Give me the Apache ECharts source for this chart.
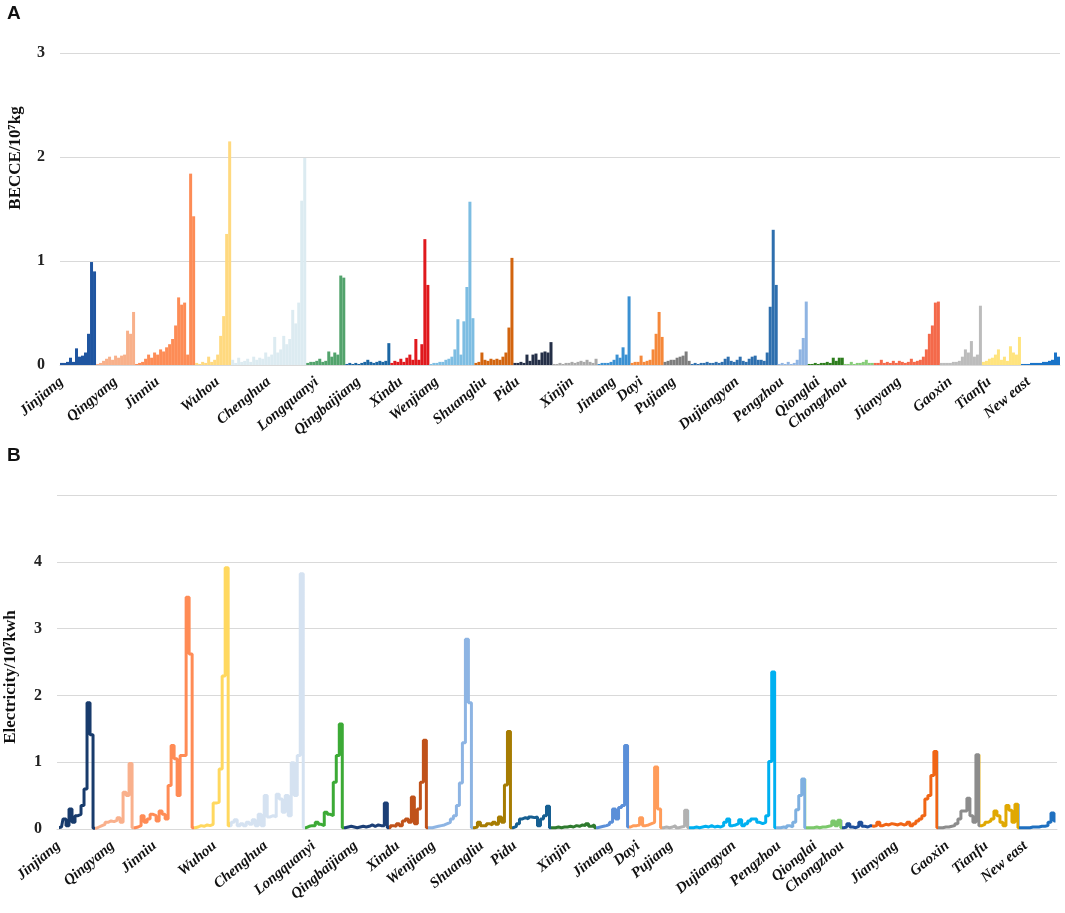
<!DOCTYPE html>
<html><head><meta charset="utf-8">
<script src="https://cdn.jsdelivr.net/npm/echarts@6/dist/echarts.min.js"></script>
<style>html,body{margin:0;padding:0;background:#fff}#c{width:1065px;height:913px}</style>
</head><body><div id="c"></div>
<script>
// ---------------- DATA ----------------
const districts = ['Jinjiang','Qingyang','Jinniu','Wuhou','Chenghua','Longquanyi','Qingbaijiang','Xindu','Wenjiang','Shuangliu','Pidu','Xinjin','Jintang','Dayi','Pujiang','Dujiangyan','Pengzhou','Qionglai','Chongzhou','Jianyang','Gaoxin','Tianfu','New east'];

// BECCE (10^7 kg), one small array per district
const becce = [
  [0.02,0.02,0.03,0.07,0.03,0.16,0.08,0.09,0.12,0.3,0.99,0.9],
  [0.01,0.02,0.04,0.06,0.08,0.05,0.09,0.07,0.09,0.1,0.33,0.3,0.51],
  [0.01,0.02,0.03,0.06,0.1,0.07,0.12,0.1,0.15,0.13,0.17,0.2,0.25,0.38,0.65,0.58,0.6,0.1,1.84,1.43],
  [0.02,0.01,0.03,0.02,0.08,0.03,0.05,0.1,0.28,0.47,1.26,2.15],
  [0.05,0.02,0.07,0.03,0.04,0.06,0.03,0.08,0.05,0.07,0.06,0.12,0.08,0.1,0.27,0.12,0.15,0.28,0.2,0.25,0.53,0.4,0.6,1.58,1.99],
  [0.02,0.03,0.03,0.04,0.06,0.03,0.04,0.13,0.08,0.12,0.1,0.86,0.84],
  [0.01,0.02,0.01,0.02,0.01,0.02,0.03,0.05,0.03,0.02,0.03,0.04,0.03,0.04,0.21],
  [0.02,0.04,0.03,0.06,0.03,0.07,0.1,0.05,0.25,0.05,0.2,1.21,0.77],
  [0.01,0.02,0.02,0.03,0.03,0.05,0.06,0.08,0.15,0.44,0.1,0.42,0.75,1.57,0.45],
  [0.02,0.03,0.12,0.05,0.04,0.06,0.05,0.06,0.05,0.08,0.12,0.36,1.03],
  [0.02,0.02,0.03,0.02,0.1,0.04,0.1,0.11,0.05,0.12,0.13,0.12,0.22],
  [0.01,0.01,0.02,0.01,0.02,0.02,0.03,0.02,0.03,0.04,0.03,0.05,0.03,0.02,0.06],
  [0.01,0.02,0.02,0.02,0.03,0.05,0.1,0.07,0.17,0.1,0.66],
  [0.02,0.03,0.03,0.09,0.03,0.04,0.05,0.15,0.3,0.51,0.27],
  [0.03,0.04,0.05,0.05,0.07,0.08,0.09,0.13,0.04],
  [0.01,0.02,0.01,0.02,0.02,0.03,0.02,0.02,0.03,0.02,0.03,0.06,0.08,0.04,0.03,0.05,0.08,0.04,0.03,0.06,0.08,0.09,0.05,0.05,0.04,0.12,0.56,1.3,0.77],
  [0.01,0.02,0.01,0.03,0.01,0.02,0.05,0.15,0.26,0.61],
  [0.01,0.01,0.02,0.01,0.02,0.02,0.03,0.02,0.07,0.04,0.07,0.07],
  [0.01,0.01,0.03,0.01,0.02,0.02,0.03,0.05,0.02,0.02],
  [0.02,0.02,0.05,0.02,0.03,0.02,0.04,0.02,0.04,0.03,0.02,0.03,0.06,0.03,0.04,0.05,0.08,0.15,0.3,0.38,0.6,0.61],
  [0.02,0.02,0.02,0.02,0.03,0.03,0.04,0.08,0.15,0.12,0.23,0.08,0.1,0.57],
  [0.03,0.04,0.06,0.07,0.1,0.15,0.05,0.08,0.04,0.18,0.12,0.1,0.27],
  [0.01,0.01,0.01,0.02,0.02,0.02,0.02,0.03,0.03,0.04,0.05,0.12,0.08]
];

// Electricity (10^7 kwh), one small array per district
const electricity = [
  [0.02,0.03,0.15,0.05,0.3,0.1,0.2,0.22,0.35,0.6,1.89,1.41],
  [0.01,0.03,0.05,0.07,0.1,0.12,0.11,0.13,0.17,0.1,0.55,0.5,0.98],
  [0.02,0.03,0.05,0.2,0.1,0.15,0.22,0.2,0.12,0.27,0.22,0.15,0.65,1.25,1.05,0.5,1.1,1.1,3.47,2.62],
  [0.02,0.03,0.05,0.04,0.06,0.05,0.07,0.39,0.4,0.9,2.29,3.91],
  [0.05,0.1,0.14,0.05,0.08,0.05,0.1,0.07,0.14,0.05,0.22,0.05,0.5,0.18,0.2,0.18,0.52,0.45,0.25,0.5,0.2,0.99,0.5,1.1,3.82],
  [0.02,0.04,0.05,0.05,0.1,0.07,0.05,0.25,0.22,0.2,0.7,1.1,1.57],
  [0.02,0.03,0.04,0.03,0.02,0.03,0.04,0.03,0.04,0.06,0.04,0.06,0.05,0.05,0.39],
  [0.02,0.05,0.04,0.08,0.05,0.12,0.15,0.1,0.48,0.08,0.3,0.7,1.33],
  [0.02,0.02,0.03,0.04,0.05,0.06,0.08,0.1,0.15,0.2,0.35,0.69,1.29,2.84,1.89],
  [0.02,0.03,0.1,0.05,0.05,0.08,0.06,0.1,0.07,0.18,0.1,0.66,1.46],
  [0.02,0.04,0.08,0.15,0.17,0.15,0.18,0.17,0.18,0.05,0.15,0.2,0.34],
  [0.02,0.02,0.03,0.02,0.03,0.03,0.04,0.03,0.05,0.04,0.06,0.05,0.08,0.04,0.06],
  [0.02,0.03,0.04,0.05,0.07,0.1,0.3,0.15,0.32,0.35,1.25],
  [0.03,0.05,0.05,0.06,0.17,0.05,0.06,0.08,0.1,0.93,0.3],
  [0.02,0.03,0.02,0.03,0.05,0.02,0.03,0.04,0.28],
  [0.02,0.02,0.03,0.02,0.03,0.04,0.03,0.05,0.03,0.04,0.03,0.05,0.1,0.15,0.05,0.06,0.08,0.14,0.05,0.08,0.12,0.15,0.15,0.1,0.08,0.1,0.2,1.01,2.35],
  [0.02,0.02,0.03,0.02,0.05,0.03,0.1,0.29,0.5,0.75],
  [0.02,0.02,0.02,0.03,0.02,0.03,0.03,0.04,0.05,0.12,0.05,0.13],
  [0.02,0.03,0.08,0.03,0.02,0.04,0.1,0.04,0.03,0.05],
  [0.04,0.05,0.1,0.05,0.07,0.06,0.08,0.07,0.06,0.08,0.06,0.07,0.1,0.05,0.08,0.12,0.15,0.2,0.45,0.5,0.8,1.16],
  [0.02,0.02,0.03,0.03,0.04,0.05,0.08,0.15,0.27,0.27,0.46,0.2,0.1,1.11],
  [0.05,0.07,0.1,0.12,0.15,0.27,0.2,0.1,0.05,0.35,0.28,0.1,0.37],
  [0.02,0.02,0.02,0.02,0.03,0.03,0.03,0.04,0.04,0.05,0.1,0.24,0.12]
];

const yTicksA = [0, 1, 2, 3];
const yTicksB = [0, 1, 2, 3, 4];
const yNameA = 'BECCE/10⁷kg';
const yNameB = 'Electricity/10⁷kwh';

// ---------------- STYLE ----------------
const colorsA = ['#1f55a0','#f8b08a','#fd8c56','#ffd97f','#dcebf1','#52a36c','#1b66a3','#e0191d','#7dbde2','#d2640f','#242f47','#a8a8a8','#3a90d2','#f5883a','#7d7d7d','#2e6fae','#8fb4e2','#2d7d1d','#86cc78','#f4694a','#bcbcbc','#ffe47e','#1a74c8'];
const colorsB = ['#183b6c','#f9b08c','#ff8b55','#ffd85f','#d5e2f1','#3caa36','#1c3f76','#c0521a','#8db4e3','#a67c02','#165f92','#2e7a2e','#5b8fd8','#ff9c5a','#b1b1b1','#00b0f0','#7eb0e0','#7bc86b','#1f4f9a','#f06515','#8c8c8c','#e0a802','#1f70c0'];
const labelOffset = [0,6,7,7,12,3,4,3,2,3,1,6,5,3,3,15,1,3,0,8,3,2,2];

// ---------------- BUILD ----------------
const starts = [];
let total = 0;
becce.forEach(a => { starts.push(total); total += a.length; });
const labelAt = {};
districts.forEach((d, i) => { labelAt[starts[i] + labelOffset[i]] = d; });
const cats = [];
for (let i = 0; i < total; i++) cats.push(labelAt[i] || '');

const barData = [];
becce.forEach((arr, k) => arr.forEach(v => barData.push({ value: v, itemStyle: { color: colorsA[k] } })));
const lineData = [];
electricity.forEach(arr => arr.forEach(v => lineData.push(v)));
const pieces = districts.map((d, k) => ({ gt: starts[k] - 0.5, lte: starts[k] + electricity[k].length - 0.5, color: colorsB[k] }));

const serif = 'Liberation Serif, Times New Roman, serif';
function xAxisCfg(g) {
  return {
    gridIndex: g, type: 'category', data: cats, boundaryGap: true,
    axisTick: { show: false },
    axisLine: { lineStyle: { color: '#d9d9d9' } },
    axisLabel: { interval: 0, rotate: 40, margin: 15, fontFamily: serif, fontWeight: 'bold', fontStyle: 'italic', fontSize: 15, color: '#111' }
  };
}
function yAxisCfg(g, ticks, max) {
  return {
    gridIndex: g, type: 'value', min: ticks[0], max: max, interval: ticks[1] - ticks[0],
    axisLine: { show: false }, axisTick: { show: false },
    axisLabel: { margin: 15, fontFamily: serif, fontWeight: 'bold', fontSize: 16, color: '#222',
      formatter: v => (ticks.indexOf(v) >= 0 ? String(v) : '') },
    splitLine: { lineStyle: { color: '#d9d9d9', width: 1 } }
  };
}

const chart = echarts.init(document.getElementById('c'), null, { renderer: 'canvas' });
chart.setOption({
  animation: false,
  backgroundColor: '#fff',
  graphic: [
    { type: 'text', left: 7, top: 4, style: { text: 'A', font: 'bold 19px Liberation Sans, Arial, sans-serif', fill: '#111' } },
    { type: 'text', left: 7, top: 446, style: { text: 'B', font: 'bold 19px Liberation Sans, Arial, sans-serif', fill: '#111' } },
    { type: 'text', x: 16, y: 158, rotation: Math.PI / 2,
      style: { text: yNameA, font: 'bold 17px Liberation Serif, Times New Roman, serif', fill: '#111', align: 'center', verticalAlign: 'middle' } },
    { type: 'text', x: 11, y: 677, rotation: Math.PI / 2,
      style: { text: yNameB, font: 'bold 17px Liberation Serif, Times New Roman, serif', fill: '#111', align: 'center', verticalAlign: 'middle' } }
  ],
  grid: [
    { left: 60, right: 5, top: 53, bottom: 548 },
    { left: 57, right: 8, top: 495, bottom: 84 }
  ],
  xAxis: [xAxisCfg(0), xAxisCfg(1)],
  yAxis: [yAxisCfg(0, yTicksA, 3), yAxisCfg(1, yTicksB, 5)],
  visualMap: [{ show: false, type: 'piecewise', seriesIndex: 1, dimension: 0, pieces: pieces }],
  series: [
    { type: 'bar', xAxisIndex: 0, yAxisIndex: 0, data: barData, barCategoryGap: '0%' },
    { type: 'line', xAxisIndex: 1, yAxisIndex: 1, data: lineData, step: 'middle', showSymbol: false, symbol: 'none',
      lineStyle: { width: 3 } }
  ]
});
</script></body></html>
